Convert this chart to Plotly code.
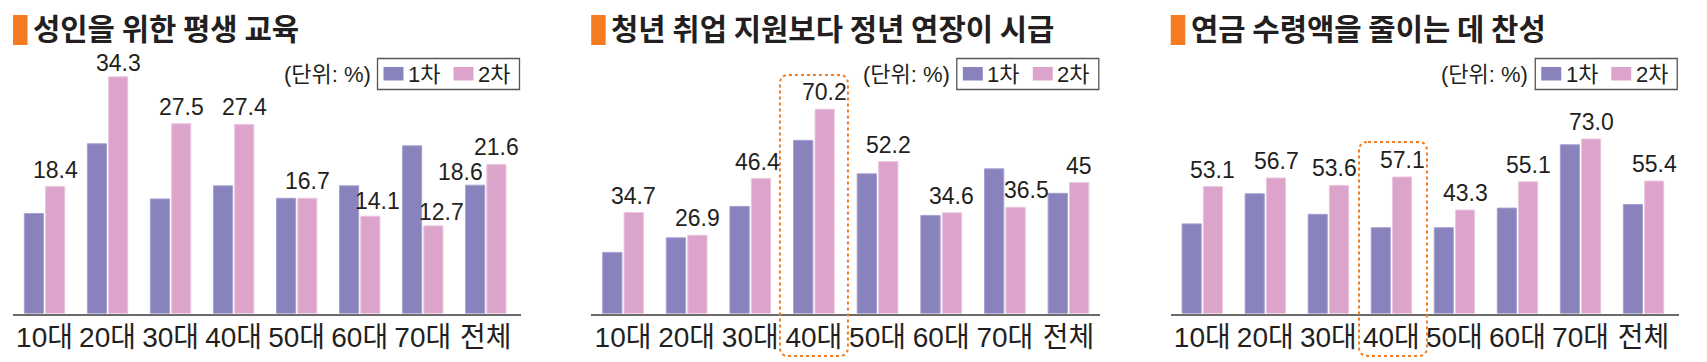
import plotly.graph_objects as go

# ---------------- data ----------------
categories = ["10대", "20대", "30대", "40대", "50대", "60대", "70대", "전체"]
series_names = ["1차", "2차"]

titles = ["성인을 위한 평생 교육", "청년 취업 지원보다 정년 연장이 시급", "연금 수령액을 줄이는 데 찬성"]
unit_text = "(단위: %)"

edu_round1 = [14.5, 24.6, 16.6, 18.5, 16.7, 18.5, 24.3, 18.6]
edu_round2 = [18.4, 34.3, 27.5, 27.4, 16.7, 14.1, 12.7, 21.6]
edu_labels2 = ["18.4", "34.3", "27.5", "27.4", "16.7", "14.1", "12.7", "21.6"]

job_round1 = [21.0, 26.0, 36.8, 59.5, 48.0, 33.7, 49.7, 41.3]
job_round2 = [34.7, 26.9, 46.4, 70.2, 52.2, 34.6, 36.5, 45.0]
job_labels2 = ["34.7", "26.9", "46.4", "70.2", "52.2", "34.6", "36.5", "45"]

pension_round1 = [37.5, 50.1, 41.5, 35.9, 35.9, 44.1, 70.6, 45.6]
pension_round2 = [53.1, 56.7, 53.6, 57.1, 43.3, 55.1, 73.0, 55.4]
pension_labels2 = ["53.1", "56.7", "53.6", "57.1", "43.3", "55.1", "73.0", "55.4"]

# labelled first-round bars (panel 0 "전체")
round1_labels = [{"전체": "18.6"}, {}, {}]
highlight = [None, "40대", "40대"]

# ---------------- style ----------------
W, H = 1707, 362
PURPLE = "#8882BD"
PINK = "#DDA4CB"
ORANGE = "#F47B20"
INK = "#231F20"
NUM_FONT = "Liberation Sans Narrow, Liberation Sans, Noto Sans CJK KR, sans-serif"
TITLE_FONT = "Noto Sans CJK KR, sans-serif"

panel_x = [(13, 521), (591.2, 1100.3), (1170.75, 1678.75)]  # px
base_py, top_py = 313.5, 40
px_per_unit = [6.9, 2.91, 2.39]
# label nudges (px) for crowded labels
nudge2 = [{"20대": (0, -3), "60대": (7, -2), "70대": (8, -3)}, {"30대": (-4, -1), "70대": (11, 0)}, {"30대": (-5, 0)}]
nudge1 = [{"전체": (-14.5, -4)}, {}, {}]
box_tops = [None, 75, 142]
LABEL_H, LABEL_LIFT = 26, 2

def X(px):
    return px / W

def Y(py):
    return 1 - py / H

panels = [
    (edu_round1, edu_round2, edu_labels2),
    (job_round1, job_round2, job_labels2),
    (pension_round1, pension_round2, pension_labels2),
]

fig = go.Figure()
shapes, annotations = [], []
layout = {}
bargap, bargroupgap = 0.326, 0.1

for i, (r1, r2, lab2) in enumerate(panels):
    n = "" if i == 0 else str(i + 1)
    xa, ya = "x" + n, "y" + n
    d0, d1 = panel_x[i]
    cw = (d1 - d0) / len(categories)
    slot = (1 - bargap) * cw / 2
    off = slot / 2
    ymax = (base_py - top_py) / px_per_unit[i]

    fig.add_trace(go.Bar(x=categories, y=r1, name=series_names[0], marker=dict(color=PURPLE, line=dict(color="#A6A0D0", width=1)),
                         xaxis=xa, yaxis=ya, showlegend=False, hoverinfo="skip"))
    fig.add_trace(go.Bar(x=categories, y=r2, name=series_names[1], marker=dict(color=PINK, line=dict(color="#EBC6DF", width=1)),
                         xaxis=xa, yaxis=ya, showlegend=False, hoverinfo="skip"))

    layout["xaxis" + n] = dict(domain=[X(d0), X(d1)], anchor=ya, type="category", showline=True, linecolor="#6B6B6B",
                               linewidth=2, ticks="", showgrid=False, zeroline=False, fixedrange=True,
                               ticklabelstandoff=-2,
                               tickfont=dict(family=NUM_FONT, size=28, color=INK))
    layout["yaxis" + n] = dict(domain=[Y(base_py), Y(top_py)], anchor=xa, range=[0, ymax], visible=False, fixedrange=True)

    # value labels for round 2
    for c, v, t in zip(categories, r2, lab2):
        dx, dy = nudge2[i].get(c, (0, 0))
        annotations.append(dict(x=c, y=v, xref=xa, yref=ya, text=t, showarrow=False, xanchor="center", yanchor="bottom",
                                height=LABEL_H, valign="middle",
                                xshift=off + dx, yshift=dy + LABEL_LIFT, font=dict(family=NUM_FONT, size=23, color=INK)))
    for c, t in round1_labels[i].items():
        v = r1[categories.index(c)]
        dx, dy = nudge1[i].get(c, (0, 0))
        annotations.append(dict(x=c, y=v, xref=xa, yref=ya, text=t, showarrow=False, xanchor="center", yanchor="bottom",
                                height=LABEL_H, valign="middle",
                                xshift=-off + dx, yshift=dy + LABEL_LIFT, font=dict(family=NUM_FONT, size=23, color=INK)))

    # title with orange marker
    shapes.append(dict(type="rect", xref="paper", yref="paper", x0=X(d0), x1=X(d0 + 14.5), y0=Y(45), y1=Y(15),
                       fillcolor=ORANGE, line=dict(width=0)))
    annotations.append(dict(x=X(d0 + 18), y=Y(27.5), xref="paper", yref="paper", text=titles[i], showarrow=False,
                            xanchor="left", yanchor="middle", height=34, valign="middle",
                            font=dict(family=TITLE_FONT, size=29.7, color=INK, weight=700)))

    # legend box
    R = d1 - 1.5
    L = R - 142
    shapes.append(dict(type="rect", xref="paper", yref="paper", x0=X(L), x1=X(R), y0=Y(89.5), y1=Y(58.5),
                       fillcolor="white", line=dict(color="#555555", width=1.3)))
    for sx, col, name in [(6, PURPLE, series_names[0]), (76, PINK, series_names[1])]:
        shapes.append(dict(type="rect", xref="paper", yref="paper", x0=X(L + sx), x1=X(L + sx + 20), y0=Y(80.5), y1=Y(67),
                           fillcolor=col, line=dict(width=0)))
        annotations.append(dict(x=X(L + sx + 22.5), y=Y(74), xref="paper", yref="paper", text=name, showarrow=False,
                                xanchor="left", yanchor="middle", font=dict(family=NUM_FONT, size=22, color=INK)))
    annotations.append(dict(x=X(L - 5), y=Y(75), xref="paper", yref="paper", text=unit_text, showarrow=False,
                            xanchor="right", yanchor="middle", font=dict(family=NUM_FONT, size=22, color=INK)))

    # dotted rounded highlight box
    if highlight[i] is not None:
        k = categories.index(highlight[i])
        cx = d0 + (k + 0.5) * cw
        x0, x1, y0, y1, r = cx - 34, cx + 34, box_tops[i], 356, 9
        pts = [("M", x0 + r, y0), ("L", x1 - r, y0), ("Q", x1, y0, x1, y0 + r), ("L", x1, y1 - r),
               ("Q", x1, y1, x1 - r, y1), ("L", x0 + r, y1), ("Q", x0, y1, x0, y1 - r), ("L", x0, y0 + r),
               ("Q", x0, y0, x0 + r, y0)]
        path = ""
        for p in pts:
            cmd, coords = p[0], p[1:]
            xy = []
            for j in range(0, len(coords), 2):
                xy.append(f"{X(coords[j]):.6f},{Y(coords[j + 1]):.6f}")
            path += cmd + " ".join(xy) + " "
        shapes.append(dict(type="path", xref="paper", yref="paper", path=path + "Z",
                           line=dict(color=ORANGE, width=2, dash="dot")))

fig.update_layout(width=W, height=H, margin=dict(l=0, r=0, t=0, b=0), paper_bgcolor="white", plot_bgcolor="white",
                  barmode="group", bargap=bargap, bargroupgap=bargroupgap, shapes=shapes, annotations=annotations,
                  showlegend=False, **layout)

fig.write_html("out.html", config={"displayModeBar": False},
               post_script="document.body.style.margin='0';document.body.style.padding='0';")
